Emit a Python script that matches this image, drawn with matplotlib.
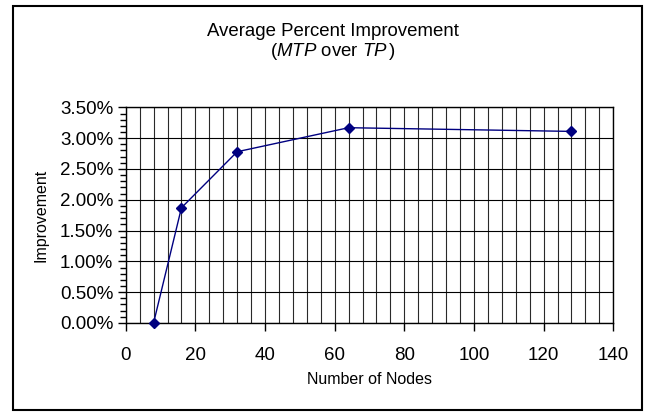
import numpy as np
import matplotlib
matplotlib.use("Agg")
import matplotlib.pyplot as plt
from matplotlib.patches import Rectangle
from matplotlib.ticker import MultipleLocator, FuncFormatter

plt.rcParams['font.family'] = ['Liberation Sans', 'DejaVu Sans']
plt.rcParams['mathtext.fontset'] = 'custom'
plt.rcParams['mathtext.rm'] = 'Liberation Sans'
plt.rcParams['mathtext.it'] = 'Liberation Sans:italic'

# number of nodes vs. average improvement (percent)
nodes = [8, 16, 32, 64, 128]
improvement = [0.00, 1.87, 2.78, 3.17, 3.11]

fig = plt.figure(figsize=(6.47, 4.13), dpi=100)
ax = fig.add_axes([0.1943, 0.218, 0.7536, 0.522])

ax.plot(nodes, improvement, color='#000080', lw=1.0, marker='D',
        markersize=5.5, markerfacecolor='#000080', markeredgecolor='#000080',
        clip_on=False, zorder=3)

ax.set_xlim(0, 140)
ax.set_ylim(0, 3.5)
ax.xaxis.set_major_locator(MultipleLocator(20))
ax.xaxis.set_minor_locator(MultipleLocator(4))
ax.yaxis.set_major_locator(MultipleLocator(0.5))
ax.yaxis.set_minor_locator(MultipleLocator(0.1))
ax.yaxis.set_major_formatter(FuncFormatter(lambda v, p: '%.2f%%' % v))

# excel style grid: vertical every 4 nodes, horizontal every 0.5%
ax.grid(which='both', axis='x', color='#2a2a2a', lw=0.8)
ax.grid(which='major', axis='y', color='black', lw=0.8)
ax.tick_params(axis='x', which='minor', length=0)
ax.tick_params(axis='x', which='major', direction='out', length=6,
               width=1, labelsize=13.5, pad=11)
ax.tick_params(axis='y', which='major', direction='out', length=6,
               width=1, labelsize=13.5, pad=3)
ax.tick_params(axis='y', which='minor', direction='out', length=4, width=1)
ax.tick_params(top=False, right=False)
for s in ax.spines.values():
    s.set_color('black')
    s.set_linewidth(1.0)

ax.set_xlabel('Number of Nodes', fontsize=11.5, labelpad=6)
ax.set_ylabel('Improvement', fontsize=11.5, labelpad=8)

fig.text(333 / 647, 1 - 31 / 413, 'Average Percent Improvement',
         ha='center', va='center', fontsize=13.4)
fig.text(333 / 647, 1 - 51 / 413, r'($\mathit{MTP}$ over $\mathit{TP}\,$)',
         ha='center', va='center', fontsize=13.4)

# chart border
fig.patches.append(Rectangle((13 / 647, 1 - 410 / 413), 629 / 647, 404 / 413,
                             transform=fig.transFigure, fill=False,
                             edgecolor='black', lw=1.5))

fig.savefig('out.png', dpi=100, facecolor='white')
